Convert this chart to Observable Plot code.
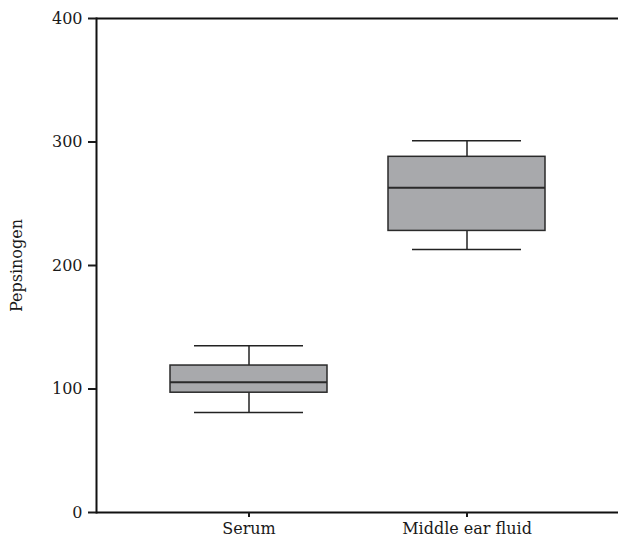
<!DOCTYPE html>
<html><head><meta charset="utf-8">
<script src="https://cdn.jsdelivr.net/npm/d3@7"></script>
<script src="https://cdn.jsdelivr.net/npm/@observablehq/plot@0.6"></script>
<style>body{margin:0;background:#fff}</style>
</head><body><div id="chart"></div>
<script>
const categories = ["Serum", "Middle ear fluid"];
const whiskerLow = [81, 213];
const q1 = [97, 228];
const median = [105.5, 263];
const q3 = [119, 288];
const whiskerHigh = [135, 301];
const yTicks = [0, 100, 200, 300, 400];

const rows = categories.map((c, i) => ({cat: c, lo: whiskerLow[i], q1: q1[i], med: median[i], q3: q3[i], hi: whiskerHigh[i]}));

const plot = Plot.plot({
  width: 620, height: 544,
  marginLeft: 96, marginRight: 2, marginTop: 18, marginBottom: 32,
  style: {fontFamily: "DejaVu Serif", fontSize: "16px", color: "#1a1a1a", background: "#fff"},
  x: {domain: categories, paddingInner: 0.28, paddingOuter: 0.337},
  y: {domain: [0, 400]},
  marks: [
    Plot.ruleX(rows, {x: "cat", y1: "lo", y2: "hi", stroke: "#222", strokeWidth: 1.5}),
    Plot.barY(rows, {x: "cat", y1: "q1", y2: "q3", fill: "#a8a9ac", stroke: "#2a2a2a", strokeWidth: 1.5}),
    Plot.tickY(rows, {x: "cat", y: "med", stroke: "#2a2a2a", strokeWidth: 2}),
    Plot.tickY(rows, {x: "cat", y: "lo", stroke: "#222", strokeWidth: 1.5, inset: 24}),
    Plot.tickY(rows, {x: "cat", y: "hi", stroke: "#222", strokeWidth: 1.5, inset: 24}),
    Plot.ruleY([0, 400], {stroke: "#111", strokeWidth: 2}),
    Plot.frame({anchor: "left", stroke: "#111", strokeWidth: 2}),
    Plot.axisY({ticks: yTicks, tickSize: 8, tickPadding: 6, strokeWidth: 2, fontSize: 16,
      label: "Pepsinogen", labelAnchor: "center", labelArrow: "none", labelOffset: 86}),
    Plot.axisX({tickSize: 5, tickPadding: 5, strokeWidth: 2, fontSize: 16, label: null})
  ]
});
document.getElementById("chart").appendChild(plot);
</script>
</body></html>
